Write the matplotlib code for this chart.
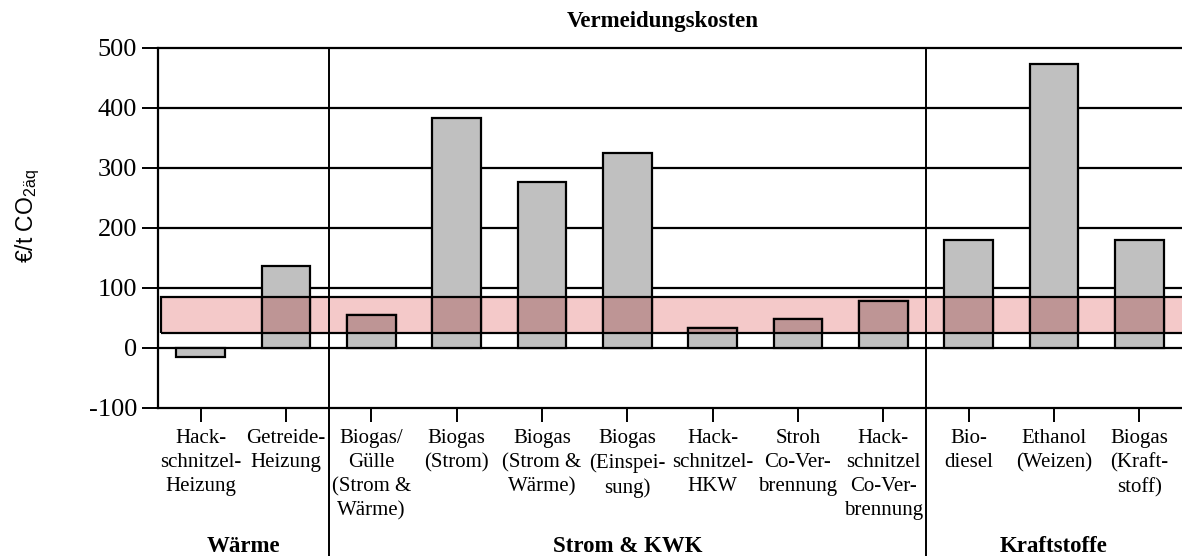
import matplotlib
matplotlib.use("Agg")
from matplotlib import pyplot as plt
from matplotlib.patches import Rectangle
from matplotlib.transforms import blended_transform_factory

plt.rcParams['font.family'] = ['Liberation Serif', 'DejaVu Serif']
plt.rcParams['mathtext.fontset'] = 'custom'
plt.rcParams['mathtext.rm'] = 'Liberation Sans'
plt.rcParams['axes.unicode_minus'] = False

labels = ["Hack-\nschnitzel-\nHeizung", "Getreide-\nHeizung",
          "Biogas/\nGülle\n(Strom &\nWärme)", "Biogas\n(Strom)",
          "Biogas\n(Strom &\nWärme)", "Biogas\n(Einspei-\nsung)",
          "Hack-\nschnitzel-\nHKW", "Stroh\nCo-Ver-\nbrennung",
          "Hack-\nschnitzel\nCo-Ver-\nbrennung", "Bio-\ndiesel",
          "Ethanol\n(Weizen)", "Biogas\n(Kraft-\nstoff)"]
kosten = [-15, 136, 55, 384, 277, 325, 33, 48, 78, 180, 474, 180]

groups = ["Wärme", "Strom & KWK", "Kraftstoffe"]
group_edges = [-0.5, 1.5, 8.5, 11.5]

band_low = 25
band_high = 85

fig = plt.figure(figsize=(11.82, 5.56), dpi=100)
ax = fig.add_axes([158/1182, 1-408/556, 1-158/1182, 360/556])

x_pos = list(range(len(labels)))

for y in [0, 100, 200, 300, 400]:
    ax.axhline(y, color='black', lw=1.6, zorder=0.5)

# Zielbereich
band_fill = Rectangle((-0.46, band_low), 12.5, band_high - band_low,
                      facecolor='#f4c9c9', edgecolor='none', zorder=1)
ax.add_patch(band_fill)

ax.bar(x_pos, kosten, width=0.57, color='#c0c0c0', edgecolor='black',
       lw=1.6, zorder=2)
over = ax.bar(x_pos, kosten, width=0.57, color='#be9595', edgecolor='black',
              lw=1.6, zorder=3)
clip = Rectangle((-0.46, band_low), 12.5, band_high - band_low,
                 transform=ax.transData)
for p in over:
    p.set_clip_path(clip)

ax.add_patch(Rectangle((-0.46, band_low), 12.5, band_high - band_low,
                       facecolor='none', edgecolor='black', lw=1.6, zorder=4))

ax.set_xlim(-0.5, 11.5)
ax.set_ylim(-100, 500)
ax.set_yticks([-100, 0, 100, 200, 300, 400, 500])
ax.set_xticks(x_pos)
ax.set_xticklabels(labels, fontsize=15, linespacing=1.36)
ax.tick_params(axis='y', length=11.5, width=1.4, pad=3.5, labelsize=19)
ax.tick_params(axis='x', length=10, width=1.4, pad=5)

for s in ['left', 'bottom', 'top']:
    ax.spines[s].set_linewidth(1.6)
ax.spines['right'].set_visible(False)

for e in group_edges[1:-1]:
    ax.axvline(e, ymin=-0.42, ymax=1, color='black', lw=1.4, clip_on=False,
               zorder=5)

trans = blended_transform_factory(ax.transData, ax.transAxes)
for i, g in enumerate(groups):
    cx = (group_edges[i] + group_edges[i+1]) / 2
    ax.text(cx, -0.385, g, transform=trans, ha='center', va='center',
            fontsize=16.5, fontweight='bold')

fig.text(663/1182, 1-22/556, "Vermeidungskosten", ha='center', va='center',
         fontsize=16.5, fontweight='bold')
fig.text(28/1182, 1-216/556, "€/t CO$_{2\\mathrm{äq}}$", rotation=90,
         ha='center', va='center', fontsize=16.5, family='Liberation Sans')

plt.savefig("out.png", dpi=100)
